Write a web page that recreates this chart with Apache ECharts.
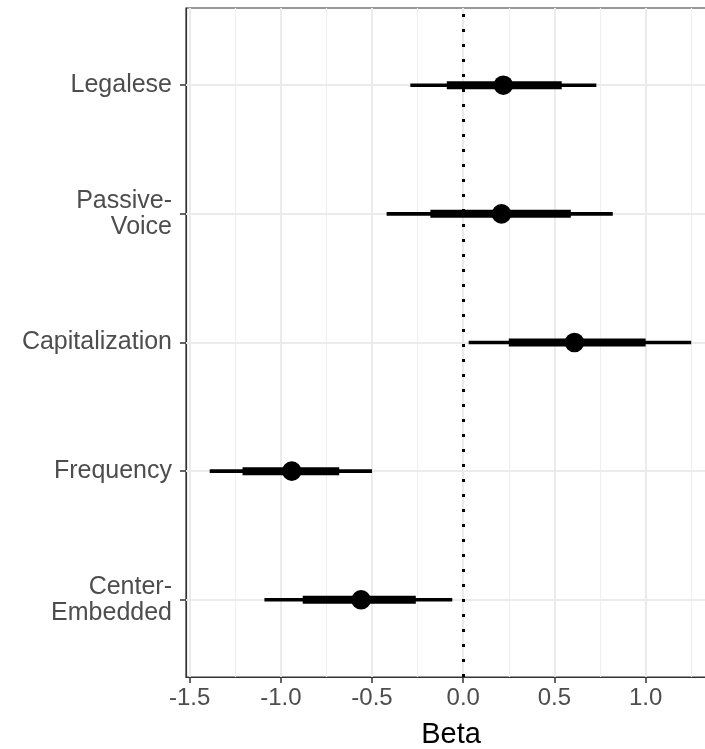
<!DOCTYPE html>
<html>
<head>
<meta charset="utf-8">
<script src="https://cdn.jsdelivr.net/npm/echarts@6/dist/echarts.min.js"></script>
<style>
  html, body { margin: 0; padding: 0; background: #fff; }
  #chart { width: 705px; height: 749px; }
</style>
</head>
<body>
<div id="chart"></div>
<script>
// Predictors, listed bottom to top
const categories = ['Center-\nEmbedded', 'Frequency', 'Capitalization', 'Passive-\nVoice', 'Legalese'];
// Point estimates and interval bounds (outer = thin line, inner = thick line)
const estimate = [-0.56, -0.94, 0.61, 0.21, 0.22];
const outerLow = [-1.09, -1.39, 0.03, -0.42, -0.29];
const outerHigh = [-0.06, -0.50, 1.25, 0.82, 0.73];
const innerLow = [-0.88, -1.21, 0.25, -0.18, -0.09];
const innerHigh = [-0.26, -0.68, 1.00, 0.59, 0.54];

// Axis ticks
const xTicks = [-1.5, -1.0, -0.5, 0.0, 0.5, 1.0];
const xMinorTicks = [-1.25, -0.75, -0.25, 0.25, 0.75, 1.25];
const yTicks = [1, 2, 3, 4, 5];

const rows = categories.map((c, i) => [i + 1, outerLow[i], innerLow[i], estimate[i], innerHigh[i], outerHigh[i]]);

const FONT = 'Liberation Sans, Arial, Helvetica, sans-serif';
const chart = echarts.init(document.getElementById('chart'));

chart.setOption({
  animation: false,
  backgroundColor: '#ffffff',
  grid: {
    left: 186, right: -11, top: 8, bottom: 72,
    containLabel: false, outerBoundsMode: 'none',
    show: true, borderColor: '#333333', borderWidth: 1.2, backgroundColor: 'transparent'
  },
  xAxis: {
    type: 'value', min: -1.52, max: 1.386,
    name: 'Beta', nameLocation: 'middle', nameGap: 43,
    nameTextStyle: { fontFamily: FONT, fontSize: 29, color: '#000000' },
    axisLine: { show: true, onZero: false, lineStyle: { color: '#333333', width: 1.2 } },
    axisTick: { show: true, length: 6, customValues: xTicks, lineStyle: { color: '#333333', width: 1.5 } },
    axisLabel: {
      customValues: xTicks, margin: 9, fontFamily: FONT, fontSize: 24, color: '#4D4D4D',
      formatter: v => v.toFixed(1)
    },
    splitLine: { show: false }
  },
  yAxis: {
    type: 'value', min: 0.4, max: 5.6,
    axisLine: { show: true, onZero: false, lineStyle: { color: '#333333', width: 1.2 } },
    axisTick: { show: true, length: 6, customValues: yTicks, lineStyle: { color: '#333333', width: 1.5 } },
    axisLabel: {
      customValues: yTicks, margin: 14, fontFamily: FONT, fontSize: 25, color: '#4D4D4D',
      lineHeight: 26, align: 'right',
      formatter: v => categories[Math.round(v) - 1] || ''
    },
    splitLine: { show: false }
  },
  series: [
    {
      // panel grid lines
      type: 'scatter', data: [], silent: true, z: 1,
      markLine: {
        silent: true, symbol: 'none', label: { show: false }, animation: false,
        data: [
          ...xMinorTicks.map(v => ({ xAxis: v, lineStyle: { color: '#EFEFEF', width: 1.2, type: 'solid' } })),
          ...xTicks.map(v => ({ xAxis: v, lineStyle: { color: '#EBEBEB', width: 2, type: 'solid' } })),
          ...yTicks.map(v => ({ yAxis: v, lineStyle: { color: '#EBEBEB', width: 2, type: 'solid' } }))
        ]
      }
    },
    {
      // reference line at zero
      type: 'scatter', data: [], silent: true, z: 2,
      markLine: {
        silent: true, symbol: 'none', label: { show: false }, animation: false,
        data: [{ xAxis: 0, lineStyle: { color: '#000000', width: 3, type: [3, 12], cap: 'butt' } }]
      }
    },
    {
      type: 'custom', z: 5,
      data: rows,
      encode: { x: [1, 2, 3, 4, 5], y: 0 },
      renderItem: function (params, api) {
        const y = api.value(0);
        const a = api.coord([api.value(1), y]);
        const b = api.coord([api.value(2), y]);
        const m = api.coord([api.value(3), y]);
        const c = api.coord([api.value(4), y]);
        const d = api.coord([api.value(5), y]);
        return {
          type: 'group',
          children: [
            { type: 'line', shape: { x1: a[0], y1: a[1], x2: d[0], y2: d[1] },
              style: { stroke: '#000000', lineWidth: 3.6, lineCap: 'butt' } },
            { type: 'line', shape: { x1: b[0], y1: b[1], x2: c[0], y2: c[1] },
              style: { stroke: '#000000', lineWidth: 8, lineCap: 'butt' } },
            { type: 'circle', shape: { cx: m[0], cy: m[1], r: 9.8 },
              style: { fill: '#000000' } }
          ]
        };
      }
    }
  ]
});
</script>
</body>
</html>
